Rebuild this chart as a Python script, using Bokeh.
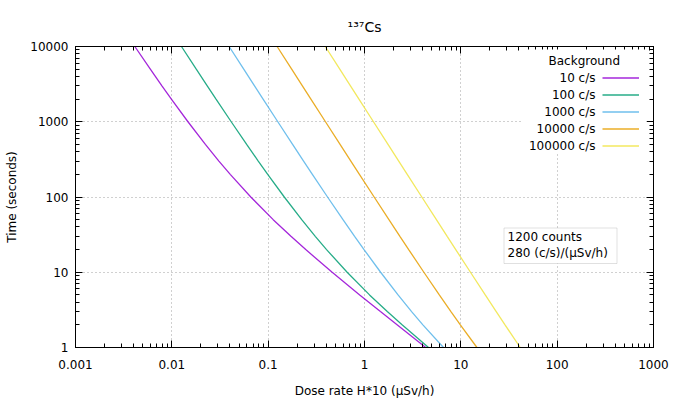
from bokeh.plotting import figure
from bokeh.models import (Range1d, FixedTicker, LogAxis, Label, Legend,
                          LegendItem, BoxAnnotation)
from bokeh.embed import file_html
from bokeh.resources import INLINE

# ---------------- data ----------------
time_s = [10000, 5000, 3000, 2000, 1000, 500, 300, 200, 100, 50, 30, 20,
          10, 5, 3, 2, 1]
dose_bg10 = [0.00413, 0.00598, 0.00789, 0.00989, 0.0147, 0.0223, 0.0308,
             0.0404, 0.0660, 0.1128, 0.1724, 0.2455, 0.4617, 0.8915, 1.463,
             2.178, 4.321]
dose_bg100 = [0.01259, 0.01793, 0.02331, 0.02876, 0.04133, 0.0598, 0.0789,
              0.0989, 0.1470, 0.2230, 0.3083, 0.4038, 0.6604, 1.128, 1.724,
              2.455, 4.617]
dose_bg1000 = [0.03934, 0.05576, 0.07215, 0.08856, 0.1259, 0.1793, 0.2331,
               0.2876, 0.4133, 0.598, 0.7893, 0.989, 1.470, 2.230, 3.083,
               4.038, 6.604]
dose_bg10000 = [0.1239, 0.1754, 0.2266, 0.2777, 0.3934, 0.5576, 0.7215,
                0.8856, 1.259, 1.793, 2.331, 2.876, 4.133, 5.978, 7.893,
                9.885, 14.70]
dose_bg100000 = [0.3915, 0.5537, 0.7150, 0.8759, 1.239, 1.754, 2.266, 2.777,
                 3.934, 5.576, 7.215, 8.856, 12.59, 17.93, 23.31, 28.76,
                 41.33]

series_names = ["10 c/s", "100 c/s", "1000 c/s", "10000 c/s", "100000 c/s"]
series_doses = [dose_bg10, dose_bg100, dose_bg1000, dose_bg10000, dose_bg100000]
colors = ["#9400d3", "#009e73", "#56b4e9", "#e69f00", "#f0e442"]

x_ticks = [0.001, 0.01, 0.1, 1, 10, 100, 1000]
x_tick_labels = ["0.001", "0.01", "0.1", "1", "10", "100", "1000"]
y_ticks = [1, 10, 100, 1000, 10000]
y_tick_labels = ["1", "10", "100", "1000", "10000"]

title_text = "\u00b9\u00b3\u2077Cs"
x_label = "Dose rate H*10 (\u03bcSv/h)"
y_label = "Time (seconds)"
legend_title = "Background"
info_lines = ["1200 counts", "280 (c/s)/(\u03bcSv/h)"]

# ---------------- layout ----------------
FONT = "DejaVu Sans"
W, H = 673, 400
L, R, T, B = 75, 20, 46, 51
FB = H - B  # canvas y of the frame bottom

x_minor = [m * 10 ** e for e in range(-3, 3) for m in range(2, 10)]
y_minor = [m * 10 ** e for e in range(0, 4) for m in range(2, 10)]

p = figure(width=W, height=H, x_axis_type="log", y_axis_type="log",
           x_range=Range1d(0.001, 1000), y_range=Range1d(1, 10000),
           output_backend="svg", toolbar_location=None,
           min_border_left=L, min_border_right=R,
           min_border_top=T, min_border_bottom=B)
p.background_fill_color = "white"
p.border_fill_color = "white"
p.outline_line_color = "black"
p.outline_line_width = 1

p.title.text = title_text
p.title.align = "center"
p.title.text_font = FONT
p.title.text_font_size = "14px"
p.title.text_font_style = "normal"
p.title.text_color = "black"
p.title.standoff = 24


def style_axis(ax, ticks, minor, labels, show_labels=True):
    ax.ticker = FixedTicker(ticks=ticks, minor_ticks=minor)
    ax.major_tick_in = 7
    ax.major_tick_out = 0
    ax.minor_tick_in = 4
    ax.minor_tick_out = 0
    ax.axis_line_color = "black"
    ax.major_tick_line_color = "black"
    ax.minor_tick_line_color = "black"
    ax.major_label_text_font = FONT
    ax.major_label_text_color = "black"
    ax.axis_label_text_font = FONT
    ax.axis_label_text_font_style = "normal"
    ax.axis_label_text_font_size = "12px"
    ax.axis_label_text_color = "black"
    if show_labels:
        ax.major_label_text_font_size = "12px"
        ax.major_label_overrides = dict(zip(ticks, labels))
    else:
        ax.major_label_text_font_size = "0px"
        ax.major_label_standoff = 0
        ax.major_label_overrides = {t: "" for t in ticks}


xa = p.xaxis[0]
style_axis(xa, x_ticks, x_minor, x_tick_labels)
xa.axis_label = x_label
xa.major_label_standoff = 12
xa.axis_label_standoff = 12

ya = p.yaxis[0]
style_axis(ya, y_ticks, y_minor, y_tick_labels)
ya.axis_label = y_label
ya.major_label_standoff = 7
ya.axis_label_standoff = 8

top_ax = LogAxis()
style_axis(top_ax, x_ticks, x_minor, x_tick_labels, show_labels=False)
p.add_layout(top_ax, "above")
right_ax = LogAxis()
style_axis(right_ax, y_ticks, y_minor, y_tick_labels, show_labels=False)
p.add_layout(right_ax, "right")

for g in (p.xgrid[0], p.ygrid[0]):
    g.grid_line_color = "#a0a0a0"
    g.grid_line_dash = "1 3"
    g.grid_line_width = 1

# ---------------- curves ----------------
renderers = []
for doses, col in zip(series_doses, colors):
    r = p.line(doses, time_s, line_color=col, line_width=1.3, line_alpha=0.85)
    renderers.append(r)

# ---------------- legend ----------------
p.add_layout(BoxAnnotation(left=522 - L, right=646 - L,
                           top=FB - 51, bottom=FB - 154,
                           left_units="screen", right_units="screen",
                           top_units="screen", bottom_units="screen",
                           fill_color="white", fill_alpha=1.0,
                           line_color=None))
p.add_layout(Label(x=548 - L, y=FB - 62, x_units="screen", y_units="screen",
                   text=legend_title, text_font=FONT, text_font_size="12px",
                   text_baseline="middle", text_align="left",
                   text_color="black"))
row_h = 17
first_row = 79.5
for i, name in enumerate(series_names):
    cy = first_row + i * row_h
    p.add_layout(Label(x=595 - L, y=FB - cy, x_units="screen",
                       y_units="screen", text=name, text_font=FONT,
                       text_font_size="12px", text_baseline="middle",
                       text_align="right", text_color="black"))

legend_bottom = first_row - row_h / 2 + row_h * len(series_names)
legend = Legend(items=[LegendItem(label=" ", renderers=[r]) for r in renderers],
                location=(602 - L, FB - legend_bottom),
                glyph_width=37, glyph_height=row_h, label_height=row_h,
                label_width=0, label_standoff=0, spacing=0, padding=0,
                margin=0, border_line_color=None, background_fill_alpha=0,
                label_text_font_size="1px")
p.add_layout(legend)

# ---------------- info box ----------------
p.add_layout(BoxAnnotation(left=503.5 - L, right=616.5 - L,
                           top=FB - 229.5, bottom=FB - 265,
                           left_units="screen", right_units="screen",
                           top_units="screen", bottom_units="screen",
                           fill_color="white", fill_alpha=1.0,
                           line_color="#999999", line_width=1))
for i, line in enumerate(info_lines):
    cy = 238 + i * 16.5
    p.add_layout(Label(x=507 - L, y=FB - cy, x_units="screen",
                       y_units="screen", text=line, text_font=FONT,
                       text_font_size="12px", text_baseline="middle",
                       text_align="left", text_color="black"))

open("out.html", "w").write(file_html(p, INLINE))
